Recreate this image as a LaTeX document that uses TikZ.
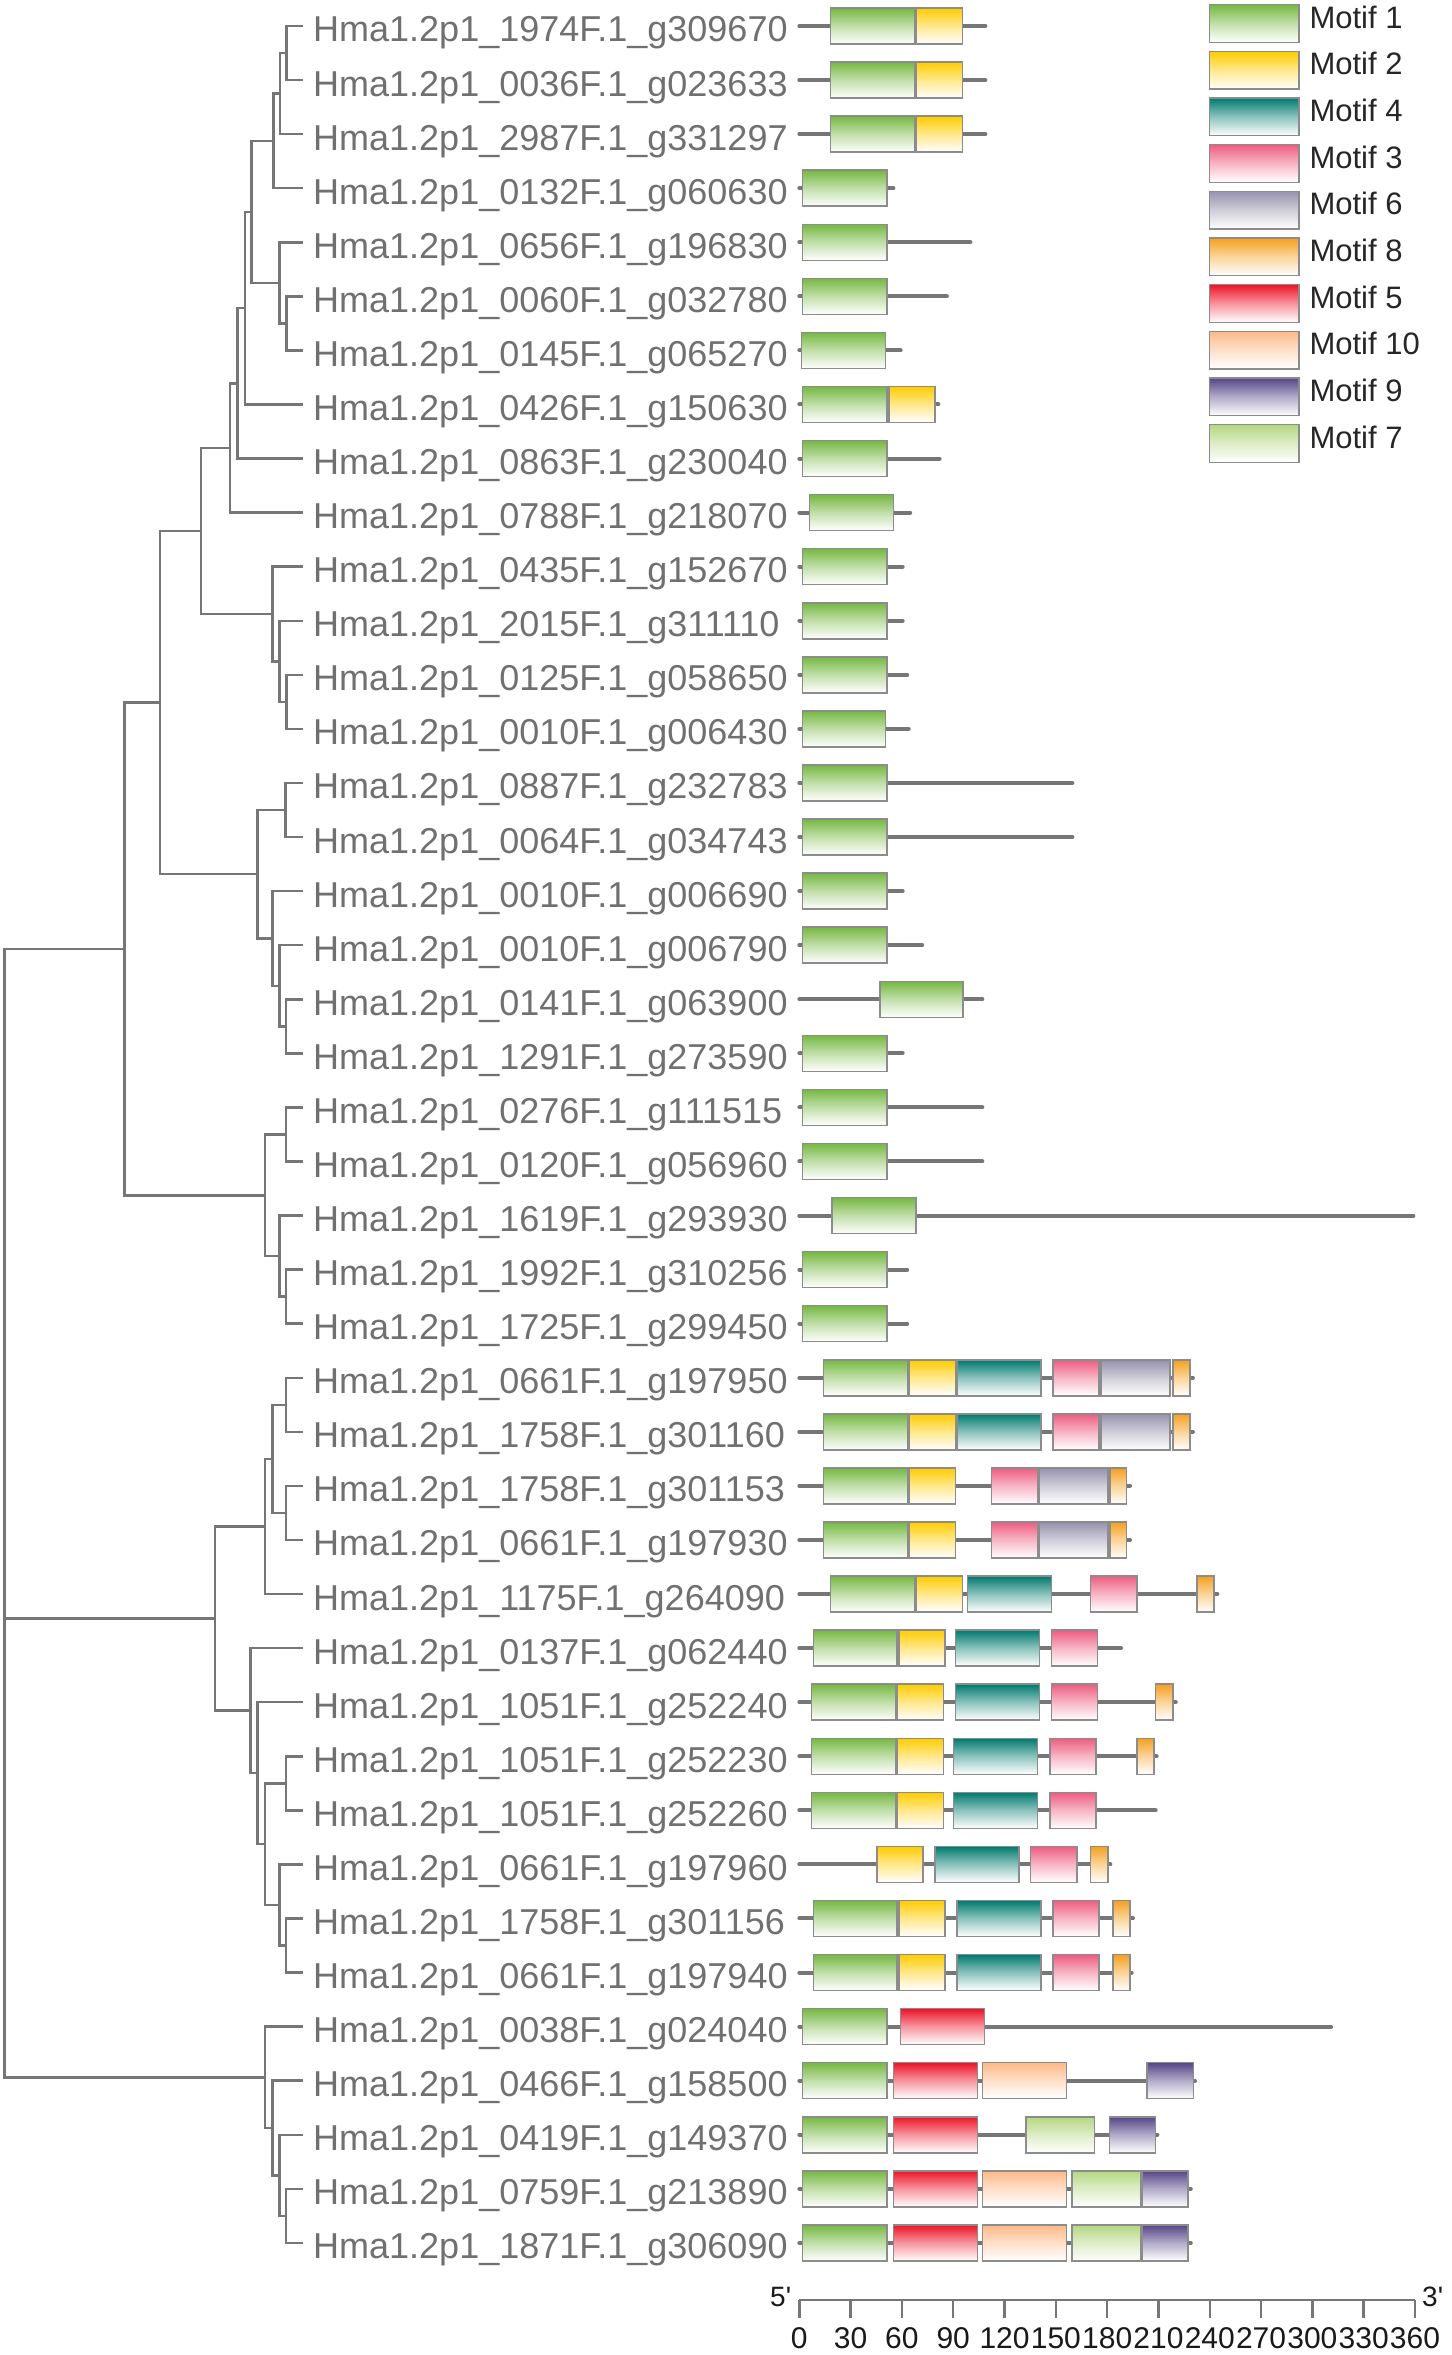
\documentclass[tikz,border=0pt]{standalone}
\usepackage{fontspec}
\setmainfont{Liberation Sans}
\definecolor{treegray}{RGB}{118,118,118}
\definecolor{labgray}{RGB}{112,112,112}
\definecolor{boxedge}{RGB}{140,140,140}
\definecolor{m1}{RGB}{118,184,66}
\definecolor{m2}{RGB}{255,204,0}
\definecolor{m4}{RGB}{0,122,110}
\definecolor{m3}{RGB}{238,92,128}
\definecolor{m6}{RGB}{150,146,172}
\definecolor{m8}{RGB}{245,160,30}
\definecolor{m5}{RGB}{237,20,40}
\definecolor{m10}{RGB}{253,185,135}
\definecolor{m9}{RGB}{85,70,135}
\definecolor{m7}{RGB}{180,215,130}
\newcommand\motifbox[4]{\draw[motbox, top color=#1, bottom color=white, middle color=#1!45] (#2,{8+54.07*(#4)}) rectangle (#3,{44+54.07*(#4)});}
\newcommand\protln[2]{\draw[protline] (799.3,{26+54.07*(#1)}) -- (#2,{26+54.07*(#1)});}
\newcommand\tcoord[3]{\coordinate (#1) at (#2,{26+54.07*(#3)});}
\begin{document}
\begin{tikzpicture}[x=1pt,y=-1pt,
  tree/.style={draw=treegray, line width=2.5pt, line cap=rect},
  lab/.style={anchor=base west, inner sep=0pt, text=labgray, font=\fontsize{36}{40}\selectfont},
  leg/.style={anchor=base west, inner sep=0pt, text={black!85}, font=\fontsize{31}{36}\selectfont},
  num/.style={anchor=base, inner sep=0pt, text=black!90, font=\fontsize{30}{34}\selectfont},
  endlab/.style={anchor=base west, inner sep=0pt, text=black!90, font=\fontsize{28}{32}\selectfont},
  protline/.style={draw=treegray, line width=4pt, line cap=round},
  motbox/.style={draw=boxedge, line width=1.5pt},
  axisln/.style={draw=treegray, line width=2.5pt}]
\useasboundingbox (0,0) rectangle (1451,2355);
\fill[white] (0,0) rectangle (1451,2355);
% leaves
\foreach \i in {0,...,41} {\coordinate (t\i) at (301.7,{26+54.07*\i});}
% labels
\foreach \i/\n in {0/1974F.1\_g309670,1/0036F.1\_g023633,2/2987F.1\_g331297,3/0132F.1\_g060630,
 4/0656F.1\_g196830,5/0060F.1\_g032780,6/0145F.1\_g065270,7/0426F.1\_g150630,8/0863F.1\_g230040,
 9/0788F.1\_g218070,10/0435F.1\_g152670,11/2015F.1\_g311110,12/0125F.1\_g058650,13/0010F.1\_g006430,
 14/0887F.1\_g232783,15/0064F.1\_g034743,16/0010F.1\_g006690,17/0010F.1\_g006790,18/0141F.1\_g063900,
 19/1291F.1\_g273590,20/0276F.1\_g111515,21/0120F.1\_g056960,22/1619F.1\_g293930,23/1992F.1\_g310256,
 24/1725F.1\_g299450,25/0661F.1\_g197950,26/1758F.1\_g301160,27/1758F.1\_g301153,28/0661F.1\_g197930,
 29/1175F.1\_g264090,30/0137F.1\_g062440,31/1051F.1\_g252240,32/1051F.1\_g252230,33/1051F.1\_g252260,
 34/0661F.1\_g197960,35/1758F.1\_g301156,36/0661F.1\_g197940,37/0038F.1\_g024040,38/0466F.1\_g158500,
 39/0419F.1\_g149370,40/0759F.1\_g213890,41/1871F.1\_g306090}
 {\node[lab] (l\i) at (313,{42+54.07*\i}) {Hma1.2p1\_\n};}
% internal nodes
\tcoord{n01}{286.7}{0.5}
\tcoord{n012}{280}{1.25}
\tcoord{n0123}{273.3}{2.125}
\tcoord{n56}{286.7}{5.5}
\tcoord{n456}{279.3}{4.75}
\tcoord{nAa}{251.7}{3.4375}
\tcoord{nAb}{245}{5.21875}
\tcoord{nAc}{237.3}{6.609375}
\tcoord{nAd}{230}{7.8046875}
\tcoord{n1213}{286.7}{12.5}
\tcoord{n1113}{279.3}{11.75}
\tcoord{n1013}{272.3}{10.875}
\tcoord{nAe}{201}{9.33984375}
\tcoord{n1415}{285.7}{14.5}
\tcoord{n1819}{286}{18.5}
\tcoord{n1719}{279.3}{17.75}
\tcoord{n1619}{272.3}{16.875}
\tcoord{n1419}{257.7}{15.6875}
\tcoord{nA1}{160}{12.513671875}
\tcoord{n2021}{286}{20.5}
\tcoord{n2324}{286}{23.5}
\tcoord{n2224}{279.3}{22.75}
\tcoord{nA2}{265}{21.625}
\tcoord{nA}{124.3}{17.0693359}
\tcoord{n2526}{286}{25.5}
\tcoord{n2728}{286}{27.5}
\tcoord{n2528}{272.3}{26.5}
\tcoord{nB1}{265}{27.75}
\tcoord{n3233}{286}{32.5}
\tcoord{n3536}{286}{35.5}
\tcoord{n3436}{279.3}{34.75}
\tcoord{n3236}{265}{33.625}
\tcoord{n3136}{257.7}{32.3125}
\tcoord{nB2}{250.7}{31.15625}
\tcoord{nB}{215}{29.453125}
\tcoord{n4041}{286}{40.5}
\tcoord{n3941}{279.3}{39.75}
\tcoord{n3841}{272.3}{38.875}
\tcoord{nC}{265}{37.9375}
\tcoord{root}{4.3}{29.453125}
% tree edges
\foreach \p/\a/\b in {n01/t0/t1, n012/n01/t2, n0123/n012/t3, n56/t5/t6, n456/t4/n56,
  nAa/n0123/n456, nAb/nAa/t7, nAc/nAb/t8, nAd/nAc/t9, n1213/t12/t13, n1113/t11/n1213,
  n1013/t10/n1113, nAe/nAd/n1013, n1415/t14/t15, n1819/t18/t19, n1719/t17/n1819,
  n1619/t16/n1719, n1419/n1415/n1619, nA1/nAe/n1419, n2021/t20/t21, n2324/t23/t24,
  n2224/t22/n2324, nA2/n2021/n2224, nA/nA1/nA2, n2526/t25/t26, n2728/t27/t28,
  n2528/n2526/n2728, nB1/n2528/t29, n3233/t32/t33, n3536/t35/t36, n3436/t34/n3536,
  n3236/n3233/n3436, n3136/t31/n3236, nB2/t30/n3136, nB/nB1/nB2, n4041/t40/t41,
  n3941/t39/n4041, n3841/t38/n3941, nC/t37/n3841, root/nA/nC}
  {\draw[tree] (\a) -| (\p) |- (\b);}
\draw[tree] (root) -- (nB);
% protein lines
\foreach \r/\e in {0/985.4,1/985.4,2/985.4,3/893.4,4/970.4,5/946.9,6/900.7,7/938.3,8/939.6,9/910.2,
  10/902.7,11/902.7,12/907.2,13/908.7,14/1072.4,15/1072.4,16/902.7,17/922.2,18/982.3,19/902.7,
  20/982.3,21/982.3,22/1413.4,23/907.2,24/907.1,25/1192.9,26/1192.9,27/1130,28/1130,29/1217.3,
  30/1121,31/1175.8,32/1156.6,33/1155.7,34/1110.3,35/1133,36/1131.7,37/1331.1,38/1195,39/1157.4,
  40/1190.8,41/1190.8}
  {\protln{\r}{\e}}
% motifs
\foreach \r in {0,1,2} {\motifbox{m1}{830.5}{914.8}{\r}\motifbox{m2}{916.1}{962.3}{\r}}
\foreach \r in {3,4,5,8,10,11,12,14,15,16,17,19,20,21,23,24} {\motifbox{m1}{802.7}{887}{\r}}
\motifbox{m1}{801.4}{885.3}{6}
\motifbox{m1}{802.7}{887}{7}\motifbox{m2}{889.1}{934.9}{7}
\motifbox{m1}{809.6}{893.7}{9}
\motifbox{m1}{802.7}{885.3}{13}
\motifbox{m1}{880.2}{962.8}{18}
\motifbox{m1}{832.1}{916.2}{22}
\foreach \r in {25,26} {\motifbox{m1}{823.6}{907.5}{\r}\motifbox{m2}{909.2}{955.4}{\r}\motifbox{m4}{957.2}{1041}{\r}
  \motifbox{m3}{1053}{1099.2}{\r}\motifbox{m6}{1100.9}{1169.8}{\r}\motifbox{m8}{1172.8}{1189.9}{\r}}
\foreach \r in {27,28} {\motifbox{m1}{823.6}{907.5}{\r}\motifbox{m2}{909.2}{955.4}{\r}
  \motifbox{m3}{991.4}{1038}{\r}\motifbox{m6}{1039.3}{1107.8}{\r}\motifbox{m8}{1109.9}{1126.6}{\r}}
\motifbox{m1}{830.5}{914.8}{29}\motifbox{m2}{916.1}{962.3}{29}\motifbox{m4}{967.4}{1051.3}{29}
\motifbox{m3}{1090.7}{1136.9}{29}\motifbox{m8}{1196.8}{1213.9}{29}
\motifbox{m1}{813.4}{897.2}{30}\motifbox{m2}{899}{945.2}{30}\motifbox{m4}{955.4}{1039.3}{30}\motifbox{m3}{1051.3}{1097.5}{30}
\motifbox{m1}{811.7}{896}{31}\motifbox{m2}{897.2}{943.5}{31}\motifbox{m4}{955.4}{1039.3}{31}\motifbox{m3}{1051.3}{1097.5}{31}
\motifbox{m8}{1155.7}{1172.8}{31}
\motifbox{m1}{811.7}{896}{32}\motifbox{m2}{897.2}{943.5}{32}\motifbox{m4}{953.7}{1037.6}{32}\motifbox{m3}{1050}{1095.8}{32}
\motifbox{m8}{1136.9}{1154}{32}
\motifbox{m1}{811.7}{896}{33}\motifbox{m2}{897.2}{943.5}{33}\motifbox{m4}{953.7}{1037.6}{33}\motifbox{m3}{1050}{1095.8}{33}
\motifbox{m2}{877.1}{922.9}{34}\motifbox{m4}{934.9}{1018.8}{34}\motifbox{m3}{1030.7}{1077}{34}\motifbox{m8}{1090.7}{1107.8}{34}
\foreach \r in {35,36} {\motifbox{m1}{813.4}{897.2}{\r}\motifbox{m2}{899}{945.2}{\r}\motifbox{m4}{957.2}{1041}{\r}
  \motifbox{m3}{1053}{1099.2}{\r}\motifbox{m8}{1112.9}{1130}{\r}}
\motifbox{m1}{802.7}{887}{37}\motifbox{m5}{900.7}{984.5}{37}
\motifbox{m1}{802.7}{887}{38}\motifbox{m5}{893.4}{977.7}{38}\motifbox{m10}{982.4}{1066.7}{38}\motifbox{m9}{1147.1}{1193.4}{38}
\motifbox{m1}{802.7}{887}{39}\motifbox{m5}{893.4}{977.7}{39}\motifbox{m7}{1026}{1094.5}{39}\motifbox{m9}{1109.5}{1155.7}{39}
\foreach \r in {40,41} {\motifbox{m1}{802.7}{887}{\r}\motifbox{m5}{893.4}{977.7}{\r}\motifbox{m10}{982.4}{1066.7}{\r}
  \motifbox{m7}{1071.8}{1140.3}{\r}\motifbox{m9}{1142}{1188.2}{\r}}
% legend
\foreach \k/\c/\t in {0/m1/1,1/m2/2,2/m4/4,3/m3/3,4/m6/6,5/m8/8,6/m5/5,7/m10/10,8/m9/9,9/m7/7}
 {\draw[motbox, top color=\c, bottom color=white, middle color=\c!45] (1209.3,{4.7+46.67*\k}) rectangle (1299,{42.3+46.67*\k});
  \node[leg] (g\k) at (1309.3,{28.3+46.67*\k}) {Motif \t};}
% axis
\coordinate (ax0) at (799.3,2300);
\coordinate (ax1) at (1415,2300);
\draw[axisln] (ax0) -- (ax1);
\foreach \v in {0,30,...,360}
 {\draw[axisln] ({799.3+1.7103*\v},2300) -- ++(0,17.7);
  \node[num] (v\v) at ({799.3+1.7103*\v},2348) {\v};}
\node[endlab] (five) at (770,2306.7) {5\textquotesingle};
\node[endlab] (three) at (1422,2306.7) {3\textquotesingle};
\end{tikzpicture}
\end{document}
